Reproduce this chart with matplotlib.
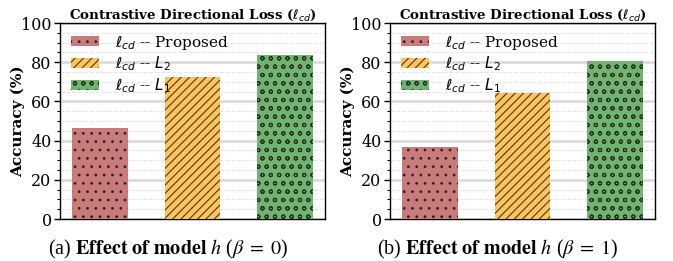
import numpy as np
import matplotlib
matplotlib.use("Agg")
import matplotlib.pyplot as plt
from matplotlib.ticker import MultipleLocator

# ---------------------------------------------------------------- data
methods = [r"$\ell_{cd}$ -- Proposed", r"$\ell_{cd}$ -- $L_2$", r"$\ell_{cd}$ -- $L_1$"]
acc_beta0 = [46.2, 72.3, 83.6]
acc_beta1 = [36.9, 64.1, 80.5]
captions = [r"(a) $\mathbf{Effect\ of\ model}$ $h$ ($\beta\;=\;0$)",
            r"(b) $\mathbf{Effect\ of\ model}$ $h$ ($\beta\;=\;1$)"]

colors = ["#c97a7a", "#fec45a", "#6fb56f"]
hatches = ["..", "////", "oo"]

plt.rcParams["font.family"] = "DejaVu Serif"
plt.rcParams["mathtext.fontset"] = "dejavusans"
plt.rcParams["hatch.linewidth"] = 0.8

fig = plt.figure(figsize=(6.73, 2.61), dpi=100)
lefts = [60 / 673, 390 / 673]

for k, (vals, cap) in enumerate(zip([acc_beta0, acc_beta1], captions)):
    ax = fig.add_axes([lefts[k], 42 / 261, 265 / 673, 196 / 261])
    x = np.arange(len(vals))
    for i in range(len(vals)):
        ax.bar(x[i], vals[i], width=0.6, color=colors[i], hatch=hatches[i],
               edgecolor=(0.1, 0.08, 0.08, 0.8), linewidth=0, label=methods[i],
               zorder=3)
    ax.set_ylim(0, 100)
    ax.yaxis.set_major_locator(MultipleLocator(20))
    ax.yaxis.set_minor_locator(MultipleLocator(5))
    ax.grid(True, which="major", axis="y", color="#d9d9d9", linewidth=1.8, zorder=0)
    ax.grid(True, which="minor", axis="y", color="#e6e6e6", linewidth=0.8,
            linestyle="--", zorder=0)
    ax.set_xticks([])
    ax.tick_params(axis="y", labelsize=11.5, length=4, width=1, pad=2)
    ax.tick_params(axis="y", which="minor", length=2, width=0.8)
    for s in ax.spines.values():
        s.set_linewidth(1.0)
    ax.set_ylabel("Accuracy (%)", fontsize=11, fontweight="bold")
    ax.yaxis.set_label_coords(-0.13, 0.5)
    ax.set_title(r"Contrastive Directional Loss ($\ell_{cd}$)", fontsize=9.6,
                 fontweight="bold", pad=3)
    ax.legend(loc="upper left", frameon=False, fontsize=11, handlelength=1.85,
              handleheight=0.65, labelspacing=0.2, borderaxespad=0.3,
              borderpad=0.4, handletextpad=1.05)
    fig.text(lefts[k] + 108 / 673, 12 / 261, cap, ha="center", va="center",
             fontsize=14.5, family="Liberation Serif", math_fontfamily="stix")

fig.savefig("out.png", dpi=100)
